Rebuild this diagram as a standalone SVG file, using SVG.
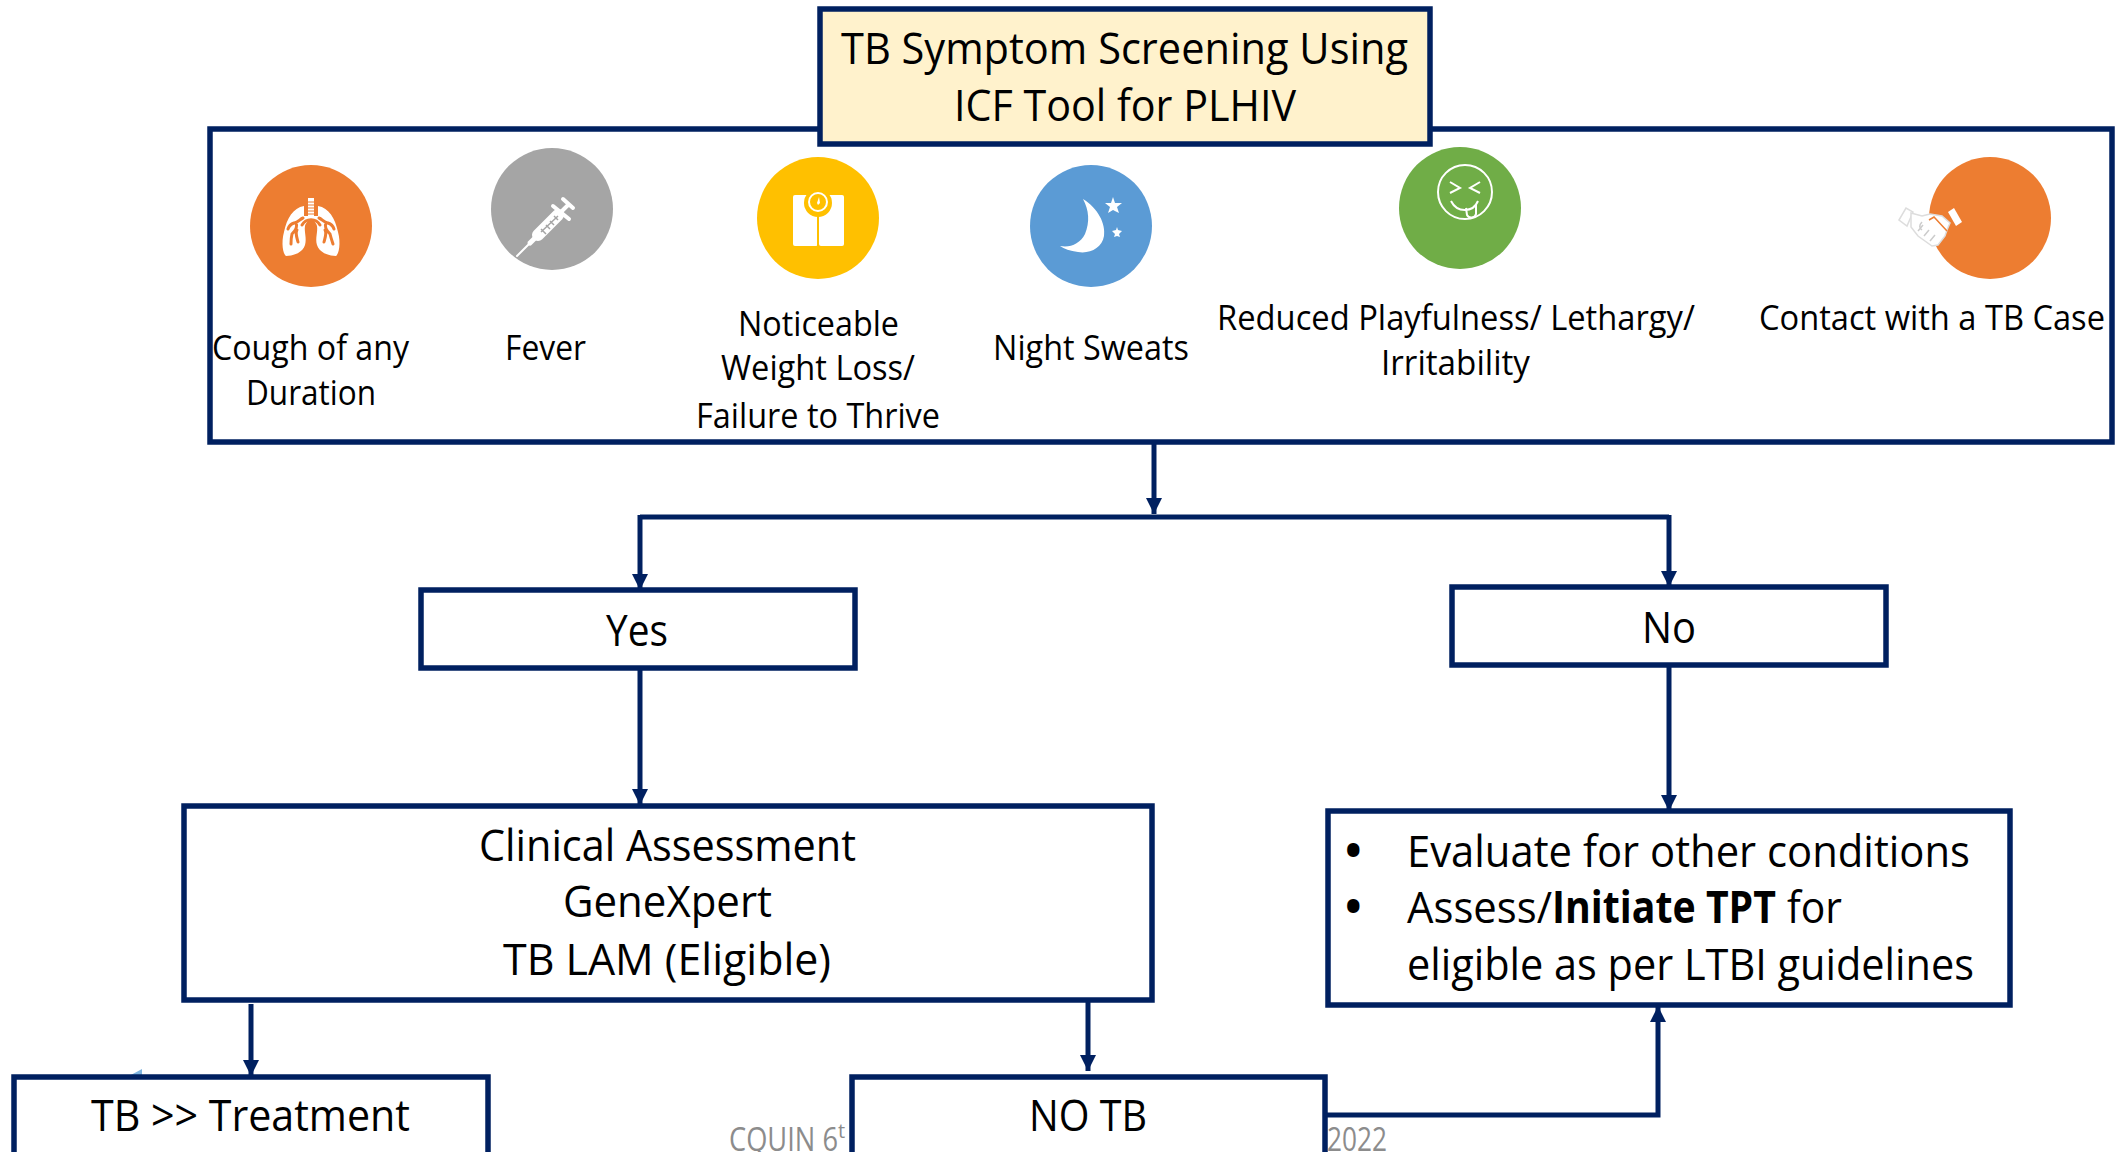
<svg xmlns="http://www.w3.org/2000/svg" width="2121" height="1152" viewBox="0 0 2121 1152">
<style>
text{font-family:"Open Sans","Noto Sans","Liberation Sans",sans-serif;fill:#000}
.box{fill:#fff;stroke:#002060;stroke-width:5.5}
.lab{font-size:34px}
.big{font-size:44px}
.bul{font-size:44px;font-weight:700}
.foot{font-size:33px;fill:#8c8c8c}
.con{fill:none;stroke:#002060;stroke-width:5}
.ico{fill:#fff}
.icl{fill:none;stroke:#fff;stroke-width:2}
.s{fill:none;stroke:#fff;stroke-linecap:round}
</style>
<defs>
<marker id="ah" viewBox="0 0 16 16" refX="16" refY="8" markerWidth="16" markerHeight="16" markerUnits="userSpaceOnUse" orient="auto"><path d="M0 0L16 8L0 16z" fill="#002060"/></marker>
</defs>
<g id="footer">
<text class="foot" y="1151"><tspan x="729" textLength="109" lengthAdjust="spacingAndGlyphs">CQUIN 6</tspan><tspan x="838" dy="-13" style="font-size:20px">t</tspan></text>
<text class="foot" x="1327" y="1151" textLength="60" lengthAdjust="spacingAndGlyphs">2022</text>
</g>
<g id="symptoms-box"><rect class="box" x="210" y="129" width="1902" height="313"/></g>
<g id="title"><rect x="820" y="9" width="610" height="135" fill="#fff2cc" stroke="#002060" stroke-width="5.5"/>
<text class="big" x="841" y="64" textLength="567" lengthAdjust="spacingAndGlyphs">TB Symptom Screening Using</text>
<text class="big" x="954" y="121" textLength="342" lengthAdjust="spacingAndGlyphs">ICF Tool for PLHIV</text></g>
<g id="cough"><circle cx="311" cy="226" r="61" fill="#ed7d31"/>
<path class="ico" d="M304 206C293 208 287 218 284 232C281 243 283 254 286 256C294 256 303 252 305 245C307 238 304 232 305 226C306 222 309 220 311 220C313 220 316 222 317 226C318 232 315 238 317 245C319 252 328 256 336 256C339 254 341 243 338 232C335 218 329 208 318 206V216H304z"/>
<rect class="ico" x="308" y="198" width="6" height="20"/>
<path d="M308 202h6M308 205h6M308 208h6M308 211h6M308 214h6" stroke="#ed7d31" stroke-width="1"/>
<path d="M303 218c-3 1-5 5-9 5-3 1-5 3-6 6M296 223c2 4-1 8-4 11-1 4-1 7-1 10M297 230c-2 3 0 8 1 12M319 218c3 1 5 5 9 5 3 1 5 3 6 6M326 223c-2 4 1 8 4 11 1 4 2 7 3 10M325 230c2 3 0 8-1 12M302 225c4-7 14-7 18 0" fill="none" stroke="#ed7d31" stroke-width="3" stroke-linecap="round"/></g>
<text class="lab" x="212" y="360" textLength="197" lengthAdjust="spacingAndGlyphs">Cough of any</text>
<text class="lab" x="246" y="405" textLength="130" lengthAdjust="spacingAndGlyphs">Duration</text>
<g id="fever"><circle cx="552" cy="209" r="61" fill="#a5a5a5"/>
<path class="s" stroke-width="2" d="M517 256L530 243"/>
<path class="s" stroke-width="5" d="M530 243L537 236"/>
<path class="s" stroke-width="12" d="M538 235L558 215"/>
<path class="s" stroke-width="4" d="M558 215L568 205M563 199L573 208M553 206L569 219"/>
<path d="M541 229l5 5M546 225l4 4M550 221l4 4M554 216l4 4M541 232L558 216" stroke="#a5a5a5" stroke-width="1.5" fill="none"/></g>
<text class="lab" x="505" y="360" textLength="81" lengthAdjust="spacingAndGlyphs">Fever</text>
<g id="weight"><circle cx="818" cy="218" r="61" fill="#ffc000"/>
<rect class="ico" x="793" y="195" width="25" height="51" rx="2"/><rect class="ico" x="819" y="195" width="25" height="51" rx="2"/>
<circle cx="818" cy="203" r="14" fill="#ffc000"/><circle cx="818" cy="202" r="9" fill="none" stroke="#fff" stroke-width="2"/><path d="M819 197l1 6-2 2-1-2z" fill="#fff"/>
<path d="M818 215v31" stroke="#ffc000" stroke-width="2"/></g>
<text class="lab" x="738" y="336" textLength="161" lengthAdjust="spacingAndGlyphs">Noticeable</text>
<text class="lab" x="721" y="380" textLength="194" lengthAdjust="spacingAndGlyphs">Weight Loss/</text>
<text class="lab" x="696" y="428" textLength="244" lengthAdjust="spacingAndGlyphs">Failure to Thrive</text>
<g id="sweats"><circle cx="1091" cy="226" r="61" fill="#5b9bd5"/>
<path class="ico" d="M1083 199C1098 208 1106 224 1104 236C1102 248 1090 254 1078 252C1070 251 1064 249 1060 246C1070 248 1080 244 1085 234C1090 222 1089 210 1083 199zM1113 197l2 6 7 0-5 4 2 6-6-3-5 3 2-6-5-4 6 0zM1117 227l1 3 4 1-3 3 1 3-3-1-3 1 1-3-3-3 4-1z"/></g>
<text class="lab" x="993" y="360" textLength="196" lengthAdjust="spacingAndGlyphs">Night Sweats</text>
<g id="playfulness"><circle cx="1460" cy="208" r="61" fill="#70ad47"/>
<circle class="icl" cx="1465" cy="192" r="27"/>
<path class="icl" d="M1450 182l10 6-10 5M1480 182l-10 6 10 5M1451 201c6 12 22 12 27 0M1466 208l1 7c2 4 8 3 9-1l0-9"/></g>
<text class="lab" x="1217" y="330" textLength="478" lengthAdjust="spacingAndGlyphs">Reduced Playfulness/ Lethargy/</text>
<text class="lab" x="1381" y="375" textLength="149" lengthAdjust="spacingAndGlyphs">Irritability</text>
<g id="contact"><circle cx="1990" cy="218" r="61" fill="#ed7d31"/>
<path d="M1899 220L1906 208L1913 212L1907 226z" fill="#fff" stroke="#ddd" stroke-width="1.5"/>
<path class="ico" d="M1948 212L1954 208L1962 222L1956 226z"/>
<path d="M1911 213L1922 216L1930 214L1942 216L1950 223L1947 230L1945 236L1938 245L1932 246L1918 236L1911 227z" fill="#fff" stroke="#ddd" stroke-width="1.5"/>
<path d="M1929 220L1934 217L1947 231" fill="none" stroke="#ed7d31" stroke-width="1.5"/>
<path d="M1918 231l5-6M1924 236l5-6M1930 241l5-6M1922 222c-3 3-3 6 0 8" fill="none" stroke="#ccc" stroke-width="1.5"/></g>
<text class="lab" x="1759" y="330" textLength="346" lengthAdjust="spacingAndGlyphs">Contact with a TB Case</text>
<g id="connectors">
<path class="con" d="M1154 442V514" marker-end="url(#ah)"/>
<path class="con" d="M640 517H1669"/>
<path class="con" d="M640 515V590" marker-end="url(#ah)"/>
<path class="con" d="M1669 515V587" marker-end="url(#ah)"/>
<path class="con" d="M640 668V805" marker-end="url(#ah)"/>
<path class="con" d="M1669 665V811" marker-end="url(#ah)"/>
<path class="con" d="M251 1004V1076" marker-end="url(#ah)"/>
<path class="con" d="M1088 1000V1071" marker-end="url(#ah)"/>
<path class="con" d="M1325 1115H1658V1006" marker-end="url(#ah)"/>
</g>
<g id="yes"><rect class="box" x="421" y="590" width="434" height="78"/><text class="big" x="606" y="646" textLength="62" lengthAdjust="spacingAndGlyphs">Yes</text></g>
<g id="no"><rect class="box" x="1452" y="587" width="434" height="78"/><text class="big" x="1642" y="643" textLength="54" lengthAdjust="spacingAndGlyphs">No</text></g>
<g id="clinical"><rect class="box" x="184" y="806" width="968" height="194"/>
<text class="big" x="479" y="861" textLength="377" lengthAdjust="spacingAndGlyphs">Clinical Assessment</text>
<text class="big" x="563" y="917" textLength="209" lengthAdjust="spacingAndGlyphs">GeneXpert</text>
<text class="big" x="503" y="975" textLength="328" lengthAdjust="spacingAndGlyphs">TB LAM (Eligible)</text></g>
<g id="evaluate"><rect class="box" x="1328" y="811" width="682" height="194"/>
<text class="bul" x="1345" y="866">•</text>
<text class="bul" x="1345" y="922">•</text>
<text class="big" x="1407" y="867" textLength="563" lengthAdjust="spacingAndGlyphs">Evaluate for other conditions</text>
<text class="big" y="923"><tspan x="1407" textLength="145" lengthAdjust="spacingAndGlyphs">Assess/</tspan><tspan x="1552" textLength="224" lengthAdjust="spacingAndGlyphs" font-weight="700">Initiate TPT</tspan><tspan x="1787" textLength="55" lengthAdjust="spacingAndGlyphs">for</tspan></text>
<text class="big" x="1407" y="980" textLength="567" lengthAdjust="spacingAndGlyphs">eligible as per LTBI guidelines</text></g>
<g id="tb"><path d="M129 1076l13-7v7z" fill="#7fb5e0"/><rect class="box" x="14" y="1077" width="474" height="85"/><text class="big" x="91" y="1131" textLength="319" lengthAdjust="spacingAndGlyphs">TB &gt;&gt; Treatment</text></g>
<g id="notb"><rect class="box" x="852" y="1077" width="473" height="85"/><text class="big" x="1029" y="1131" textLength="118" lengthAdjust="spacingAndGlyphs">NO TB</text></g>
</svg>
